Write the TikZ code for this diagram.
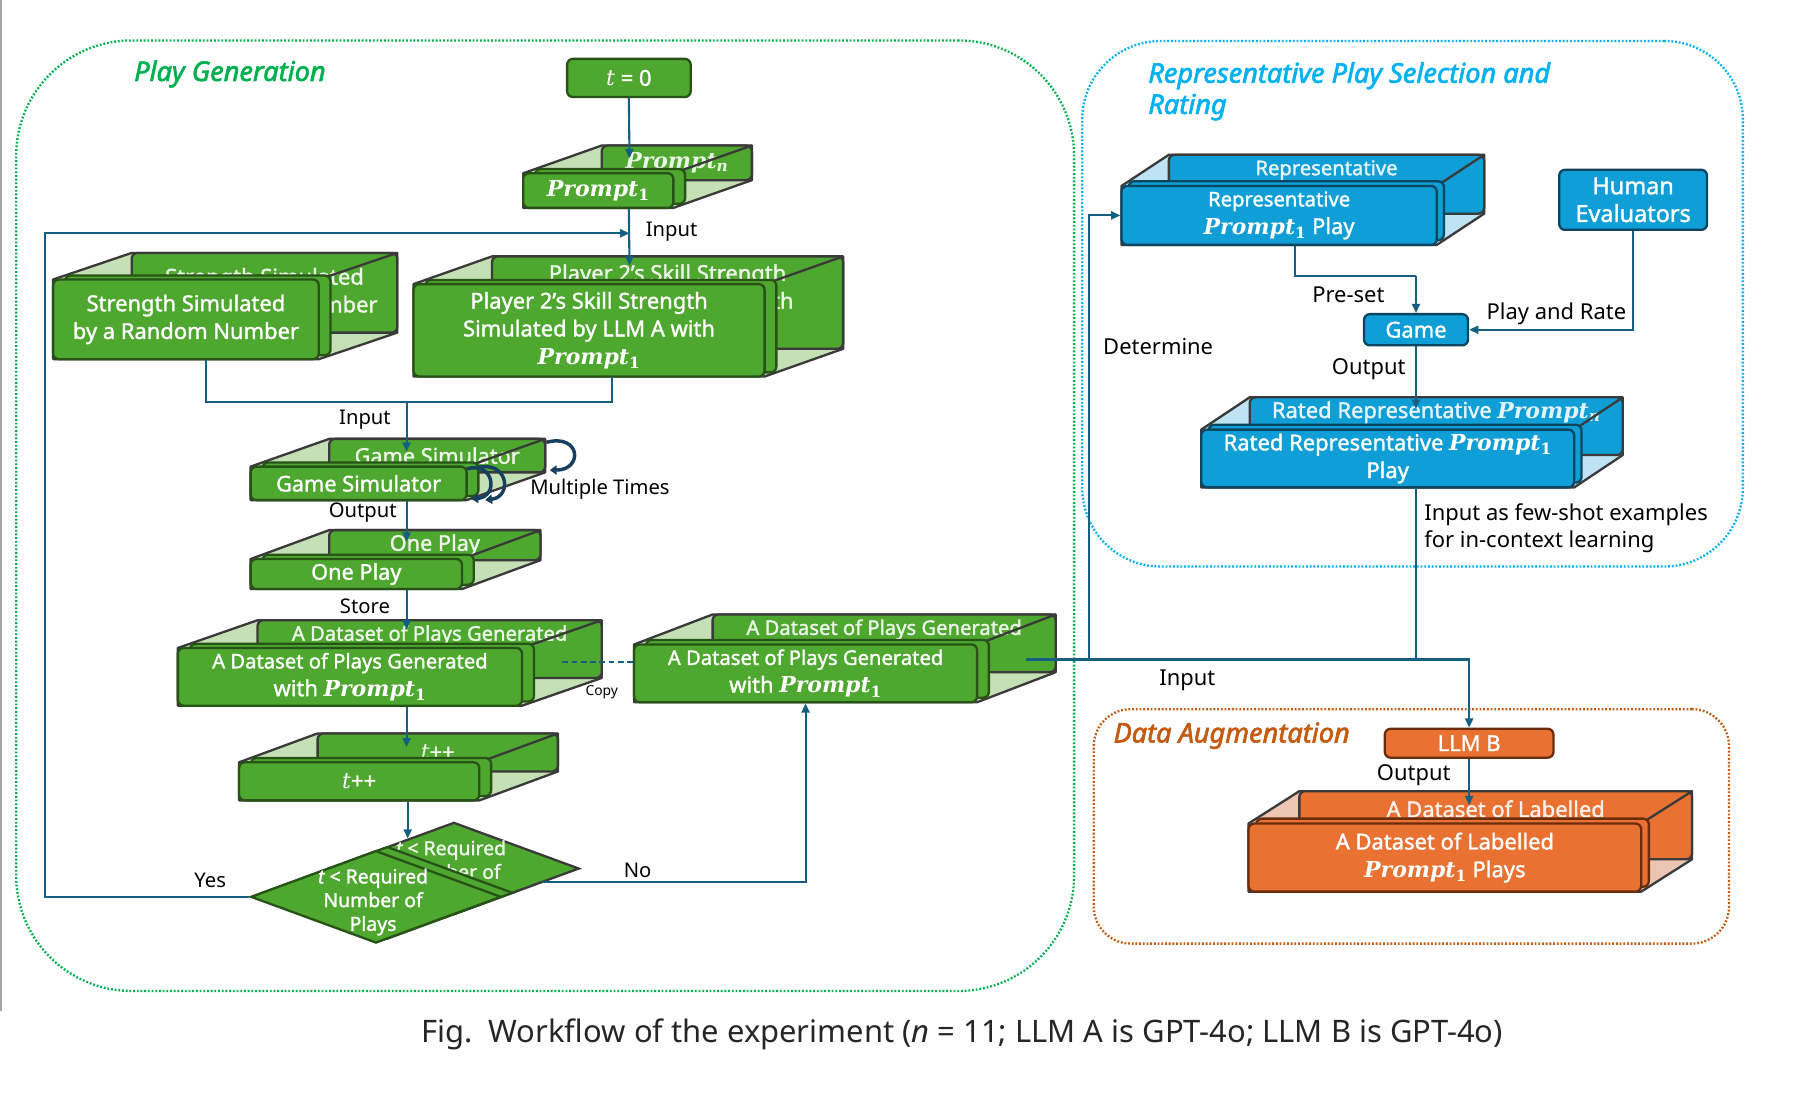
\documentclass[tikz,border=0pt]{standalone}
\usepackage{fontspec}
\setmainfont{Noto Sans}
\newfontfamily\serifbi{DejaVu Serif}
\newfontfamily\boxfont{Noto Sans}[FakeBold=1.4]
\newfontfamily\titlefont{Noto Sans}[FakeBold=2.2]
\usetikzlibrary{calc,shapes.geometric,arrows.meta}

\definecolor{gfill}{HTML}{4EA72E}
\definecolor{gdark}{HTML}{275317}
\definecolor{glight}{HTML}{C5E0B4}
\definecolor{bfill}{HTML}{0F9ED5}
\definecolor{bdark}{HTML}{0B4661}
\definecolor{blight}{HTML}{BDE3F5}
\definecolor{ofill}{HTML}{E97132}
\definecolor{odark}{HTML}{6A2C0B}
\definecolor{olight}{HTML}{EBC7B1}
\definecolor{edgegray}{HTML}{3A3A3A}
\definecolor{conncol}{HTML}{156082}
\definecolor{loopcol}{HTML}{173F5F}
\definecolor{pgreen}{HTML}{00B050}
\definecolor{pblue}{HTML}{00B0F0}
\definecolor{porange}{HTML}{C55A11}

\newcommand\pidx{1}
\newcommand\Pmt{{\serifbi\bfseries\itshape Prompt}\textsubscript{\serifbi\bfseries\pidx}}
\newcommand\fsA{\fontsize{17.5}{23.5}\selectfont}
\newcommand\fsB{\fontsize{19}{24}\selectfont}

\tikzset{
  every node/.style={font=\fontsize{17.5}{23.5}\selectfont},
  lbl/.style={text=black, inner sep=0pt},
  rlbl/.style={text=black, inner sep=0pt, font=\fontsize{19}{23}\selectfont},
  conn/.style={draw=conncol, line width=1.8pt, -{Triangle[length=8pt,width=7pt]}},
  plainconn/.style={draw=conncol, line width=1.8pt},
  gface/.style={fill=gfill, draw=gdark, line width=2pt, rounded corners=5pt},
  gback/.style={fill=gfill, draw=edgegray, line width=2pt, rounded corners=5pt},
  bface/.style={fill=bfill, draw=bdark, line width=2pt, rounded corners=5pt},
  bback/.style={fill=bfill, draw=edgegray, line width=2pt, rounded corners=5pt},
  oface/.style={fill=ofill, draw=odark, line width=2pt, rounded corners=5pt},
  oback/.style={fill=ofill, draw=edgegray, line width=2pt, rounded corners=5pt},
  boxtxt/.style={text=white, font=\boxfont\fsB, align=center},
  backtxt/.style={text=white, text opacity=0.88, align=center, inner sep=0pt, font=\boxfont\fsB},
  region/.style={line width=2pt, dash pattern=on 1.6pt off 1.6pt, inner sep=0pt},
  title/.style={font=\titlefont\itshape\fontsize{23.5}{27}\selectfont, inner sep=0pt, anchor=west, align=left},
  looparrow/.style={draw=loopcol, line width=3pt, -{Triangle[length=6pt,width=8pt]}},
}

% #1 colour prefix, #2 name, #3 x1, #4 y1, #5 x2, #6 y2 (front face), #7 dx, #8 dy (depth), #9 text
\newcommand\tdbox[9]{%
  \pgfmathsetmacro\tdw{#5-#3}\pgfmathsetmacro\tdh{#6-#4}%
  \fill[#1light, draw=edgegray, line width=2pt, line join=round]
    (#3,#4) -- ({#3+(#7)},{#4+(#8)}) -- ({#5+(#7)},{#4+(#8)}) -- ({#5+(#7)},{#6+(#8)})
    -- (#5,#6) -- (#3,#6) -- cycle;
  \draw[#1back] ({#3+(#7)},{#4+(#8)}) rectangle ({#5+(#7)},{#6+(#8)});
  \node[backtxt] at ({(#3+#5)/2+(#7)},{(#4+#6)/2+(#8)}) {\def\pidx{{\itshape n}}#9};
  \draw[edgegray, line width=2pt] ({#5+(#7)},{#4+(#8)}) -- (#5,#4);
  \draw[#1face] ({#3+0.15*(#7)},{#4+0.15*(#8)}) rectangle ({#5+0.15*(#7)},{#6+0.15*(#8)});
  \node[#1face, boxtxt, minimum width=\tdw pt, minimum height=\tdh pt, inner sep=0pt]
        (#2) at ({(#3+#5)/2},{(#4+#6)/2}) {#9};
}

\begin{document}
\begin{tikzpicture}[x=1pt,y=-1pt]
\useasboundingbox (0,0) rectangle (1568,968);
\fill[white] (0,0) rectangle (1568,968);
\draw[gray!70, line width=2pt] (1,0) -- (1,875);

% regions
\node[region, draw=pgreen, rounded corners=100pt, minimum width=916pt, minimum height=823pt] (rpg) at (472,446.5) {};
\node[region, draw=pblue, rounded corners=68pt, minimum width=572pt, minimum height=455pt] (rps) at (1223,263) {};
\node[region, draw=porange, rounded corners=32pt, minimum width=550pt, minimum height=203pt] (rda) at (1222,715.5) {};
\node[title, text=pgreen] (tpg) at (116,64) {Play Generation};
\node[title, text=pblue] (tps) at (994,79) {Representative Play Selection and\\Rating};
\node[title, text=porange] (tda) at (964,637) {Data Augmentation};

% play generation boxes
\node[gface, boxtxt, minimum width=107pt, minimum height=33pt, inner sep=0pt] (t0) at (544.5,67.5) {{\serifbi\itshape t} = 0};
\tdbox{g}{prm}{453}{150}{583}{180}{68}{-24}{\Pmt}
\tdbox{g}{str}{46}{242}{276}{311}{68}{-23}{Strength Simulated\\by a Random Number}
\tdbox{g}{ptwo}{358}{246}{662}{326}{68}{-24}{Player 2’s Skill Strength\\Simulated by LLM A with\\\Pmt}
\tdbox{g}{gs}{217}{404}{404}{433}{68}{-24}{\fontsize{18.8}{24}\selectfont Game Simulator}
\tdbox{g}{op}{217}{484}{400}{510}{68}{-25}{\fontsize{18.8}{24}\selectfont One Play}
\tdbox{g}{dsa}{154}{561}{452}{611}{69}{-24}{\fsA A Dataset of Plays Generated\\with \Pmt}
\tdbox{g}{dsb}{549}{558}{846}{608}{68}{-26}{\fsA A Dataset of Plays Generated\\with \Pmt}
\tdbox{g}{tpp}{207}{660}{415}{693}{68}{-25}{{\serifbi\itshape t}++}

% decision diamond
\node[diamond, fill=gfill, draw=edgegray, line width=2pt, minimum width=217pt, minimum height=80pt, inner sep=0pt] (diab) at (393,752) {};
\node[backtxt, font=\boxfont\fontsize{16.8}{20.5}\selectfont] (diabt) at (390.5,756.5) {{\itshape t} < Required\\Number of\\Plays};
\node[diamond, fill=gfill, draw=gdark, line width=2pt, minimum width=217pt, minimum height=80pt, inner sep=0pt] (dias) at (335.5,773) {};
\node[diamond, fill=gfill, draw=gdark, line width=2pt, minimum width=217pt, minimum height=80pt, inner sep=0pt] (dia) at (325.5,776.5) {};
\node[boxtxt, inner sep=0pt, font=\boxfont\fontsize{16.8}{20.5}\selectfont] (diat) at (323,781) {{\itshape t} < Required\\Number of\\Plays};

% loop arrows
\draw[looparrow] (473,383) .. controls (503,375) and (505,407) .. (476,407);
\draw[looparrow] (404,406) .. controls (428,399) and (432,430) .. (408,432);
\draw[looparrow] (413,405) .. controls (440,398) and (444,430) .. (420,433);

% representative selection
\tdbox{b}{rep}{971}{161}{1244}{212}{41}{-27}{\fsA Representative\\\Pmt{} Play}
\node[bface, boxtxt, minimum width=128pt, minimum height=52pt, inner sep=0pt, font=\boxfont\fontsize{20.3}{24}\selectfont] (hum) at (1414,173) {Human\\Evaluators};
\node[bface, boxtxt, minimum width=90pt, minimum height=27pt, inner sep=0pt] (game) at (1226,285.5) {Game};
\tdbox{b}{rated}{1040}{372}{1363}{422}{42}{-28}{Rated Representative \Pmt\\Play}

% data augmentation
\node[oface, boxtxt, minimum width=146pt, minimum height=25pt, inner sep=0pt] (llm) at (1272,643.5) {LLM B};
\tdbox{o}{lab}{1081}{713}{1421}{772}{44}{-28}{A Dataset of Labelled\\\Pmt{} Plays}

% connector coordinates
\coordinate (pin) at (545,137);
\coordinate (ptin) at (545,230);
\coordinate (fb) at (545,202);
\coordinate (lx) at (39,500);
\coordinate (jn) at (352,348);
\coordinate (gsin) at (352,391);
\coordinate (opin) at (352,469);
\coordinate (dsin) at (352,545);
\coordinate (tpin) at (352,647);
\coordinate (diain) at (353,726);
\coordinate (cpa) at (487,573);
\coordinate (nost) at (469,763.5);
\coordinate (dsout) at (888,571);
\coordinate (jdet) at (943,571);
\coordinate (preset) at (1226,239);
\coordinate (ratin) at (1226,354);
\coordinate (labin) at (1272,697);

% connectors
\draw[conn] (t0.south) -- (pin);
\draw[conn] (prm.south -| t0.south) -- (ptin);
\draw[conn] (dia.west) -| (lx) |- (fb);
\draw[plainconn] ($(str.south)+(17,0)$) |- (jn);
\draw[plainconn] ($(ptwo.south)+(20,0)$) |- (jn);
\draw[conn] (jn) -- (gsin);
\draw[conn] (gs.south -| jn) -- (opin);
\draw[conn] (op.south -| jn) -- (dsin);
\draw[conn] (dsa.south -| jn) -- (tpin);
\draw[conn] (tpp.south -| diain) -- (diain);
\draw[plainconn, dash pattern=on 5pt off 3pt] (cpa) -- (cpa -| dsb.west);
\draw[conn] (nost) -| (dsb.south);
\draw[conn] (dsout) -| (llm.north);
\draw[conn] (jdet) |- (rep.west);
\draw[plainconn] (rated.south -| game.south) -- (game.south |- dsout);
\draw[plainconn] ($(rep.south)+(13.5,0)$) |- (preset);
\draw[conn] (preset) -- (game.north);
\draw[conn] (hum.south) |- (game.east);
\draw[conn] (game.south) -- (ratin);
\draw[conn] (llm.south) -- (labin);

% labels
\node[lbl, anchor=west] (l1) at (559,201) {Input};
\node[lbl] (l2) at (316,363) {Input};
\node[lbl, anchor=west] (l3) at (459,424) {Multiple Times};
\node[lbl] (l4) at (314,444) {Output};
\node[lbl] (l5) at (316,525) {Store};
\node[lbl, font=\fontsize{12}{14}\selectfont] (l6) at (521,599) {Copy};
\node[lbl] (l7) at (182,762) {Yes};
\node[lbl] (l8) at (552,754) {No};
\node[rlbl, anchor=west] (l9) at (955,300) {Determine};
\node[rlbl, anchor=west] (l10) at (1136,255) {Pre-set};
\node[rlbl, anchor=west] (l11) at (1287,272) {Play and Rate};
\node[rlbl, anchor=west] (l12) at (1153,320) {Output};
\node[rlbl, anchor=west, align=left] (l13) at (1233,457.5) {Input as few-shot examples\\for in-context learning};
\node[rlbl] (l14) at (1028,589) {Input};
\node[rlbl, anchor=west] (l15) at (1192,671) {Output};

% caption
\node[inner sep=0pt, text=black!85, font=\fontsize{26.8}{30}\selectfont] (cap) at (833,896) {Fig.\ \ Workflow of the experiment ({\itshape n} = 11; LLM A is GPT-4o; LLM B is GPT-4o)};
\end{tikzpicture}
\end{document}
